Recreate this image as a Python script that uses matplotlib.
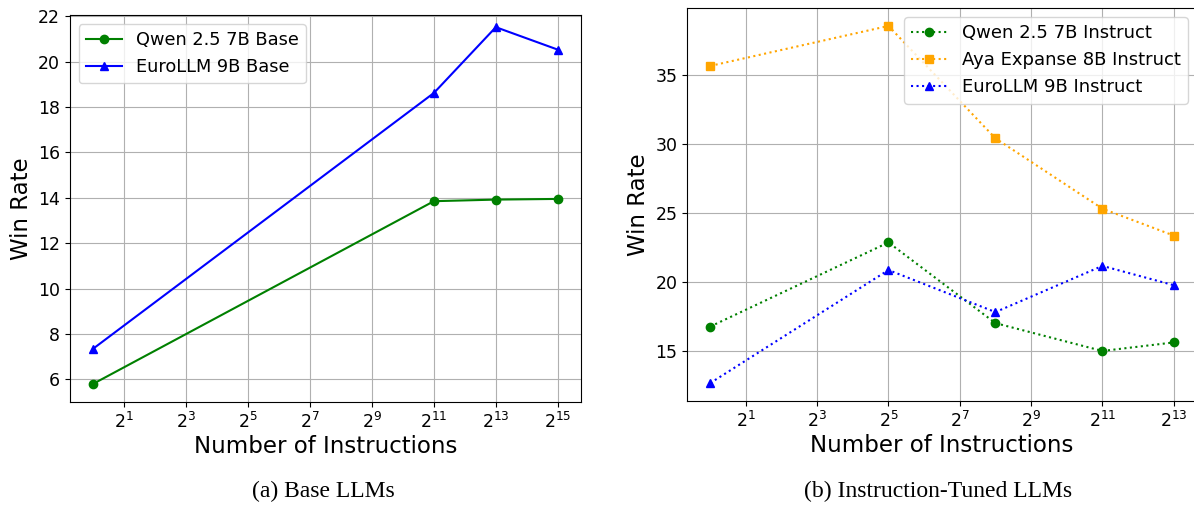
import matplotlib
matplotlib.use("Agg")
import matplotlib.pyplot as plt
from matplotlib.ticker import NullLocator

# (a) base models
base_x = [2**0, 2**11, 2**13, 2**15]
qwen_base = [5.8, 13.85, 13.92, 13.95]
euro_base = [7.35, 18.62, 21.52, 20.53]

# (b) instruction-tuned models
inst_x = [2**0, 2**5, 2**8, 2**11, 2**13]
qwen_inst = [16.75, 22.85, 17.0, 14.98, 15.6]
aya_inst = [35.65, 38.55, 30.4, 25.3, 23.35]
euro_inst = [12.65, 20.85, 17.8, 21.15, 19.75]

base_ticks = [2**k for k in range(1, 16, 2)]
inst_ticks = [2**k for k in range(1, 14, 2)]

fig = plt.figure(figsize=(11.94, 5.05), dpi=100)
ax1 = fig.add_axes([0.0586, 0.204, 0.428, 0.766])
ax2 = fig.add_axes([0.5754, 0.206, 0.427, 0.778])

ax1.plot(base_x, qwen_base, color='green', marker='o', markersize=6, label='Qwen 2.5 7B Base')
ax1.plot(base_x, euro_base, color='blue', marker='^', markersize=6, label='EuroLLM 9B Base')
ax1.set_ylim(5.0, 22.05)

ax2.plot(inst_x, qwen_inst, color='green', linestyle=':', marker='o', markersize=6,
         label='Qwen 2.5 7B Instruct')
ax2.plot(inst_x, aya_inst, color='orange', linestyle=':', marker='s', markersize=6,
         label='Aya Expanse 8B Instruct')
ax2.plot(inst_x, euro_inst, color='blue', linestyle=':', marker='^', markersize=6,
         label='EuroLLM 9B Instruct')

for ax, ticks in [(ax1, base_ticks), (ax2, inst_ticks)]:
    ax.set_xscale('log', base=2)
    ax.set_xticks(ticks)
    ax.xaxis.set_minor_locator(NullLocator())
    ax.tick_params(axis='both', labelsize=12.5)
    ax.grid(True)
    ax.set_xlabel('Number of Instructions', fontsize=16.5, labelpad=2)
    ax.set_ylabel('Win Rate', fontsize=16.5)

ax1.legend(loc='upper left', fontsize=12.8)
ax2.legend(loc='upper right', fontsize=13)

fig.text(0.271, 0.006, '(a) Base LLMs', fontsize=17, family='Liberation Serif',
         ha='center', va='bottom')
fig.text(0.786, 0.006, '(b) Instruction-Tuned LLMs', fontsize=17, family='Liberation Serif',
         ha='center', va='bottom')

plt.savefig('out.png', dpi=100)
